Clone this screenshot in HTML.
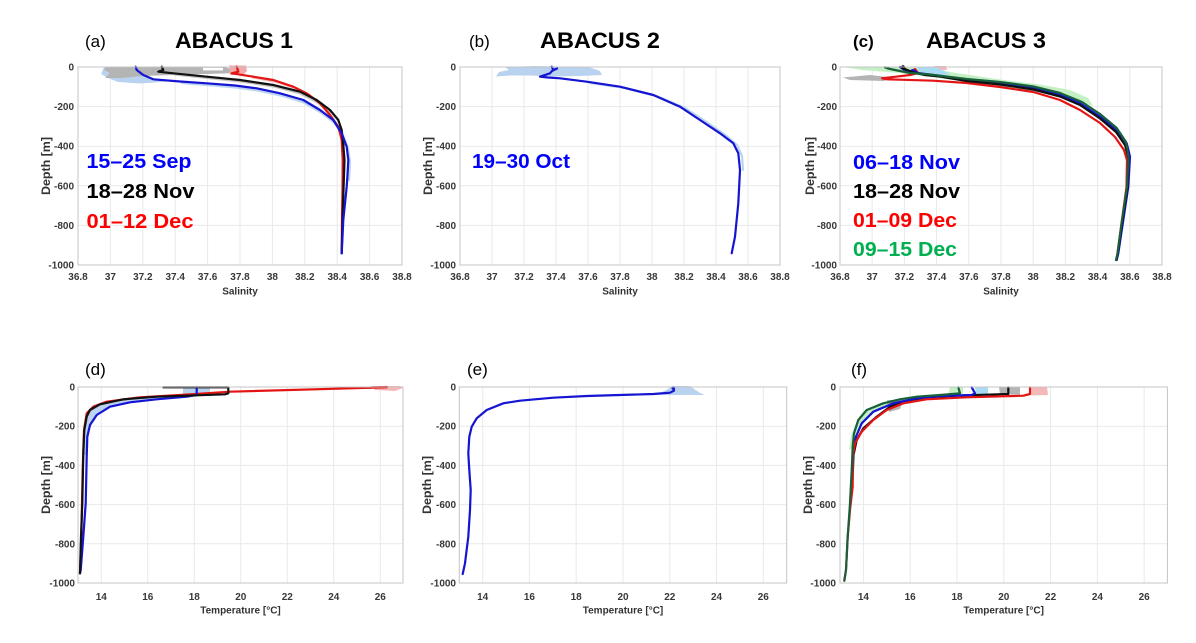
<!DOCTYPE html>
<html><head><meta charset="utf-8"><style>
html,body{margin:0;padding:0;background:#fff;}
svg{display:block;}
.tk{font-family:"Liberation Sans",Arial,sans-serif;font-size:10px;font-weight:bold;fill:#383838;}
.al{font-family:"Liberation Sans",Arial,sans-serif;font-size:10px;font-weight:bold;fill:#333;}
.dl{font-family:"Liberation Sans",Arial,sans-serif;font-size:11.5px;font-weight:bold;fill:#333;}
.pl{font-family:"Liberation Sans",Arial,sans-serif;font-size:17px;fill:#000;}
.tt{font-family:"Liberation Sans",Arial,sans-serif;font-size:22px;font-weight:bold;fill:#000;}
.lg{font-family:"Liberation Sans",Arial,sans-serif;font-size:20px;font-weight:bold;}
.grid{stroke:#e9e9e9;stroke-width:1;fill:none;}
.frame{stroke:#c4c4c4;stroke-width:1;fill:none;}
.ln{fill:none;stroke-width:2.2;stroke-linejoin:round;stroke-linecap:round;}
</style></head><body>
<svg width="1196" height="643" viewBox="0 0 1196 643" xmlns="http://www.w3.org/2000/svg">
<rect width="1196" height="643" fill="#fff"/>

<!-- ===== Titles & panel letters ===== -->
<text class="pl" x="85" y="47">(a)</text>
<text class="tt" x="175" y="48" textLength="118" lengthAdjust="spacingAndGlyphs">ABACUS 1</text>
<text class="pl" x="469" y="47">(b)</text>
<text class="tt" x="540" y="48" textLength="120" lengthAdjust="spacingAndGlyphs">ABACUS 2</text>
<text class="pl" x="853" y="47" font-weight="bold">(c)</text>
<text class="tt" x="926" y="48" textLength="120" lengthAdjust="spacingAndGlyphs">ABACUS 3</text>
<text class="pl" x="85" y="375">(d)</text>
<text class="pl" x="467" y="375">(e)</text>
<text class="pl" x="851" y="375">(f)</text>

<!-- ===== Grids ===== -->
<path class="grid" d="M110.4 67V265M142.8 67V265M175.2 67V265M207.6 67V265M240 67V265M272.4 67V265M304.8 67V265M337.2 67V265M369.6 67V265M78 106.6H402M78 146.2H402M78 185.8H402M78 225.4H402"/>
<path class="grid" d="M492 67V265M524 67V265M556 67V265M588 67V265M620 67V265M652 67V265M684 67V265M716 67V265M748 67V265M460 106.6H780M460 146.2H780M460 185.8H780M460 225.4H780"/>
<path class="grid" d="M872.2 67V265M904.4 67V265M936.6 67V265M968.8 67V265M1001 67V265M1033.2 67V265M1065.4 67V265M1097.6 67V265M1129.8 67V265M840 106.6H1162M840 146.2H1162M840 185.8H1162M840 225.4H1162"/>
<path class="grid" d="M101.25 387V583M147.75 387V583M194.25 387V583M240.75 387V583M287.25 387V583M333.75 387V583M380.25 387V583M78 426.2H403M78 465.4H403M78 504.6H403M78 543.8H403"/>
<path class="grid" d="M482.7 387V583M529.4 387V583M576.2 387V583M623 387V583M669.8 387V583M716.5 387V583M763.3 387V583M459.3 426.2H786.7M459.3 465.4H786.7M459.3 504.6H786.7M459.3 543.8H786.7"/>
<path class="grid" d="M863.4 387V583M910.2 387V583M957 387V583M1003.8 387V583M1050.6 387V583M1097.4 387V583M1144.2 387V583M840 426.2H1167.4M840 465.4H1167.4M840 504.6H1167.4M840 543.8H1167.4"/>

<!-- ===== Panel (a) data ===== -->
<polygon fill="#b9d2f0" points="104,67 135,67 140,73 150,79 175,81 140,83.5 118,82 108,78 101,74"/>
<polygon fill="#b4b4b4" points="106,67 225,67 233,70 240,73 205,74 172,75 142,76 122,78 105,78 110,73 104,70"/>
<rect x="203" y="67.8" width="20" height="2.6" fill="#fff"/>
<polygon fill="#f3a9a9" points="229,65.5 246,65.5 247,71 243,75 230,75"/>
<polyline class="ln" stroke="#f4b7b7" stroke-width="5" points="253,77.5 275,81.5 295,88 309,95 322,105 332,117 340,130 344,145"/>
<polyline class="ln" stroke="#c6c6c6" stroke-width="5" points="175,74.5 208,78 241,81.5 274,86.5 300,93.5 317,102 330,112"/>
<polyline class="ln" stroke="#bcd4f2" stroke-width="6" points="182,83 207,85 236,87.5 258,90.5 281,95.5 304,102.5 321,112.5 334,122.5 343,135 348,148 350,162 349,180"/>
<polyline class="ln" stroke="#e41414" points="236.7,66.7 238.3,71.7 231.7,73.3 253.3,76.7 273.3,80 293.3,86.7 306.7,93.3 320,103.3 330,115 338.3,126.7 341.7,140 342.7,160 342.5,190 342,220 341.7,253.3"/>
<polyline class="ln" stroke="#111" points="161.7,66.7 163.3,70 158.3,71.7 173.3,73.3 206.7,76.7 240,80 273.3,85 300,91.7 316.7,100 330,110 338.3,120 341.7,130 343.3,145 344.5,160 343.5,190 342.5,220 341.7,253.3"/>
<polyline class="ln" stroke="#1414d2" points="135.7,66.7 136.7,70 143.3,75 153.3,79.3 180,81.5 206.7,83.3 235,85.5 256.7,88.3 280,93.3 303.3,100 320,110 333.3,120 341.7,133.3 346.7,146.7 348.3,160 347.5,175 346.7,186.7 343.3,220 341.7,253.3"/>
<text class="lg" x="86.5" y="168" fill="#0000ff" textLength="105" lengthAdjust="spacingAndGlyphs">15–25 Sep</text>
<text class="lg" x="86.5" y="198" fill="#000" textLength="108" lengthAdjust="spacingAndGlyphs">18–28 Nov</text>
<text class="lg" x="86.5" y="228" fill="#ff0000" textLength="107" lengthAdjust="spacingAndGlyphs">01–12 Dec</text>

<!-- ===== Panel (b) data ===== -->
<polygon fill="#b9d2f0" points="505,67 535,66 560,66.5 590,67.5 600,71 602,75 580,76 552,76.5 530,75.5 510,75.5 496,76.5 499,72 509,70"/>
<polyline class="ln" stroke="#bcd4f2" stroke-width="6" points="590,83 625,88 658,96.5 685,108 705,121 724,134 737,145 742,156 743,170"/>
<polyline class="ln" stroke="#1414d2" points="551.7,66.7 553.3,70 557,68.5 552,71 550,73.3 540,76.7 548,77.5 560,78.3 586.7,81.7 620,86.7 653.3,95 680,106.7 700,120 720,133.3 733.3,143.3 738.3,153.3 740,170 738.3,203.3 735,236.7 731.7,253.3"/>
<text class="lg" x="472" y="168" fill="#0000ff" textLength="98" lengthAdjust="spacingAndGlyphs">19–30 Oct</text>

<!-- ===== Panel (c) data ===== -->
<polygon fill="#c4f0c4" points="843,67 925,67 950,72 1000,79.5 1040,84.5 1070,90 1088,98 1093,106 1075,100 1040,92 1000,86 960,81 930,77 900,73 862,70"/>
<polygon fill="#b4b4b4" points="843,77.5 870,75 892,77.5 884,81 850,80"/>
<polygon fill="#f5b8b8" points="934,66 946,66 947,70 936,70.5"/>
<polygon fill="#a9dcf4" points="917,67 936,67 950,74 935,76.5 920,74"/>
<polyline class="ln" stroke="#e41414" points="915,69 918,73 910,75 896,76.7 882,78.3 887,79.3 900,79.7 933,80.7 966.7,83 1000,87 1033.3,92 1060,100 1080,110 1100,123 1115,137 1124,150 1127,160 1126.5,187 1122,220 1117.5,253.3"/>
<polyline class="ln" stroke="#1414d2" points="900,67 905,70 908,72 913,70 918,73 925,74 940,76 966.7,80 1000,83.3 1033.3,88.3 1060,95 1080,103.3 1100,116.7 1116.7,130 1126.7,143.3 1130,156.7 1128.3,186.7 1123.3,220 1118.3,253.3 1116.7,260"/>
<polyline class="ln" stroke="#111" points="903,67.5 905,69 912,72 925,75 940,76.5 966.7,81 1000,84.5 1033.3,89.5 1060,96.5 1080,105 1100,118.5 1116,132 1125,145 1128.5,158 1127.5,187 1122.5,220 1117.7,253.3 1116.5,260"/>
<polyline class="ln" stroke="#17603a" points="885,67.3 888,68.5 895,70 910,73 930,74.5 966.7,79 1000,82 1033.3,86.5 1060,93 1082,102 1100,114 1116.7,128 1126,142 1128.5,157 1127,187 1122,220 1117.5,253.3 1116,260"/>
<circle cx="903" cy="67.5" r="2.2" fill="#000"/>
<text class="lg" x="853" y="169" fill="#0000ff" textLength="107" lengthAdjust="spacingAndGlyphs">06–18 Nov</text>
<text class="lg" x="853" y="198" fill="#000" textLength="107" lengthAdjust="spacingAndGlyphs">18–28 Nov</text>
<text class="lg" x="853" y="227" fill="#ff0000" textLength="104" lengthAdjust="spacingAndGlyphs">01–09 Dec</text>
<text class="lg" x="853" y="256" fill="#00b050" textLength="104" lengthAdjust="spacingAndGlyphs">09–15 Dec</text>

<!-- ===== Panel (d) data ===== -->
<polygon fill="#f5b8b8" points="372,386 400,386 403,388 395,391 375,390"/>
<polygon fill="#b9d2f0" points="183,387 210,387 210,395 183,395"/>
<polygon fill="#bcd4f2" points="196.7,395.3 156.7,396.7 123.3,399.3 100,404.3 90,410 86.7,416.7 84.3,430 83.3,453.3 86.7,456.7 87.3,436.7 90,425 96.7,415 110,406.7 130,402.3 156.7,399.3 186.7,396.7"/>
<polyline class="ln" stroke="#e41414" points="386.7,387.3 230,391.7 190,394.3 140,397.3 106.7,401.7 93.3,406.7 86.7,413.3 84,430 82.7,470 81.3,536.7 80,573.3"/>
<polyline class="ln" stroke="#e41414" stroke-width="3" points="370,387.5 387,387"/>
<polyline class="ln" stroke="#1414d2" points="196.7,387.3 196.7,395 186.7,396.7 156.7,399.3 130,402.3 110,406.7 96.7,415 90,425 87.3,436.7 86.7,456.7 85.7,503.3 83.3,536.7 80.7,570 80,573.3"/>
<polyline class="ln" stroke="#111" points="163.3,387.3 228.3,387.3 228.3,393.3 225,394.3 196.7,395.3 156.7,396.7 123.3,399.3 100,404.3 90,410 86.7,416.7 84.3,430 83.3,453.3 82.3,503.3 81,536.7 80,573.3"/>

<!-- ===== Panel (e) data ===== -->
<polygon fill="#b9d2f0" points="652,395 662,392 668,389 672,386 690,386 694,389 700,393 705,395"/>
<polyline class="ln" stroke="#1414d2" points="673.3,388.3 674,390.7 670,392.7 653.3,394 620,395 586.7,396 553.3,397.7 520,400.7 503.3,403.3 486.7,410 476.7,418.3 471.7,426.7 469.3,436.7 468.3,453.3 469.3,470 470.7,490 470,510 468.3,536.7 465,563.3 462.7,574"/>
<circle cx="673.3" cy="388" r="1.8" fill="#1414d2"/>

<!-- ===== Panel (f) data ===== -->
<polygon fill="#c4f0c4" points="950,387 963,387 963,394 940,394.5 915,396 897,399 880,403 866,410 857,421 851,435 849,450 853,448 856,433 862,421 874,411 893,403 918,398.5 948,395.5"/>
<polygon fill="#a9dcf4" points="975,387 988,387 988,394 976,394"/>
<polygon fill="#b4b4b4" points="999,387 1020,387 1020,394.5 1000,394.5"/>
<polygon fill="#b4b4b4" points="887,400 903,400 900,409 889,412"/>
<polygon fill="#f5b8b8" points="1030,387 1047,387 1048,395 1031,395.5"/>
<polyline class="ln" stroke="#111" points="1008.3,387.3 1008.3,394 966.7,395.3 926.7,397.3 906.7,400.7 890,406.7 876.7,416.7 863.3,428.3 856.7,440 853.5,455 852.5,480"/>
<polyline class="ln" stroke="#1414d2" points="971.7,387.3 975,393.3 971.7,395 940,396 916.7,398.3 893.3,403.3 873.3,411.7 861.7,423.3 856,436.7 853.3,450 852.5,470"/>
<polyline class="ln" stroke="#e41414" points="1030,387.3 1030,394 1023.3,395.7 966.7,397.3 926.7,399.3 903.3,403.3 886.7,410 873.3,420 861.7,431.7 855,443.3 852.7,456.7 852.7,486.7 850,510 847.7,536.7 846,570 844.3,580.7"/>
<polyline class="ln" stroke="#17603a" points="958.3,387.3 960,393.3 940,395 916.7,396.7 900,399.3 883.3,403.3 866.7,410 858.3,420 854,433.3 852.7,446.7 851.7,470 850,503.3 847.7,536.7 846,570 844.3,580.7"/>

<!-- ===== Frames ===== -->
<rect class="frame" x="78" y="67" width="324" height="198"/>
<rect class="frame" x="460" y="67" width="320" height="198"/>
<rect class="frame" x="840" y="67" width="322" height="198"/>
<rect class="frame" x="78" y="387" width="325" height="196"/>
<rect class="frame" x="459.3" y="387" width="327.4" height="196"/>
<rect class="frame" x="840" y="387" width="327.4" height="196"/>

<!-- ===== Tick labels top ===== -->
<g class="tk" text-anchor="middle">
<text x="78" y="280">36.8</text><text x="110.4" y="280">37</text><text x="142.8" y="280">37.2</text><text x="175.2" y="280">37.4</text><text x="207.6" y="280">37.6</text><text x="240" y="280">37.8</text><text x="272.4" y="280">38</text><text x="304.8" y="280">38.2</text><text x="337.2" y="280">38.4</text><text x="369.6" y="280">38.6</text><text x="402" y="280">38.8</text>
<text x="460" y="280">36.8</text><text x="492" y="280">37</text><text x="524" y="280">37.2</text><text x="556" y="280">37.4</text><text x="588" y="280">37.6</text><text x="620" y="280">37.8</text><text x="652" y="280">38</text><text x="684" y="280">38.2</text><text x="716" y="280">38.4</text><text x="748" y="280">38.6</text><text x="780" y="280">38.8</text>
<text x="840" y="280">36.8</text><text x="872.2" y="280">37</text><text x="904.4" y="280">37.2</text><text x="936.6" y="280">37.4</text><text x="968.8" y="280">37.6</text><text x="1001" y="280">37.8</text><text x="1033.2" y="280">38</text><text x="1065.4" y="280">38.2</text><text x="1097.6" y="280">38.4</text><text x="1129.8" y="280">38.6</text><text x="1162" y="280">38.8</text>
<!-- bottom -->
<text x="101.25" y="600">14</text><text x="147.75" y="600">16</text><text x="194.25" y="600">18</text><text x="240.75" y="600">20</text><text x="287.25" y="600">22</text><text x="333.75" y="600">24</text><text x="380.25" y="600">26</text>
<text x="482.7" y="600">14</text><text x="529.4" y="600">16</text><text x="576.2" y="600">18</text><text x="623" y="600">20</text><text x="669.8" y="600">22</text><text x="716.5" y="600">24</text><text x="763.3" y="600">26</text>
<text x="863.4" y="600">14</text><text x="910.2" y="600">16</text><text x="957" y="600">18</text><text x="1003.8" y="600">20</text><text x="1050.6" y="600">22</text><text x="1097.4" y="600">24</text><text x="1144.2" y="600">26</text>
</g>

<!-- ===== Y tick labels ===== -->
<g class="tk" text-anchor="end">
<text x="74" y="70.5">0</text><text x="74" y="110.1">-200</text><text x="74" y="149.7">-400</text><text x="74" y="189.3">-600</text><text x="74" y="228.9">-800</text><text x="74" y="268.5">-1000</text>
<text x="456" y="70.5">0</text><text x="456" y="110.1">-200</text><text x="456" y="149.7">-400</text><text x="456" y="189.3">-600</text><text x="456" y="228.9">-800</text><text x="456" y="268.5">-1000</text>
<text x="837" y="70.5">0</text><text x="837" y="110.1">-200</text><text x="837" y="149.7">-400</text><text x="837" y="189.3">-600</text><text x="837" y="228.9">-800</text><text x="837" y="268.5">-1000</text>
<text x="75" y="390.5">0</text><text x="75" y="429.7">-200</text><text x="75" y="468.9">-400</text><text x="75" y="508.1">-600</text><text x="75" y="547.3">-800</text><text x="75" y="586.5">-1000</text>
<text x="456" y="390.5">0</text><text x="456" y="429.7">-200</text><text x="456" y="468.9">-400</text><text x="456" y="508.1">-600</text><text x="456" y="547.3">-800</text><text x="456" y="586.5">-1000</text>
<text x="836" y="390.5">0</text><text x="836" y="429.7">-200</text><text x="836" y="468.9">-400</text><text x="836" y="508.1">-600</text><text x="836" y="547.3">-800</text><text x="836" y="586.5">-1000</text>
</g>

<!-- ===== Axis labels ===== -->
<g class="al" text-anchor="middle">
<text x="240" y="294.5">Salinity</text>
<text x="620" y="294.5">Salinity</text>
<text x="1001" y="294.5">Salinity</text>
<text x="240.5" y="613.5">Temperature [°C]</text>
<text x="623" y="613.5">Temperature [°C]</text>
<text x="1003.7" y="613.5">Temperature [°C]</text>
</g>
<g class="dl" text-anchor="middle">
<text transform="translate(50,166) rotate(-90)" textLength="58" lengthAdjust="spacingAndGlyphs">Depth [m]</text>
<text transform="translate(432,166) rotate(-90)" textLength="58" lengthAdjust="spacingAndGlyphs">Depth [m]</text>
<text transform="translate(814,166) rotate(-90)" textLength="58" lengthAdjust="spacingAndGlyphs">Depth [m]</text>
<text transform="translate(50,485) rotate(-90)" textLength="58" lengthAdjust="spacingAndGlyphs">Depth [m]</text>
<text transform="translate(431,485) rotate(-90)" textLength="58" lengthAdjust="spacingAndGlyphs">Depth [m]</text>
<text transform="translate(812,485) rotate(-90)" textLength="58" lengthAdjust="spacingAndGlyphs">Depth [m]</text>
</g>
</svg>
</body></html>
